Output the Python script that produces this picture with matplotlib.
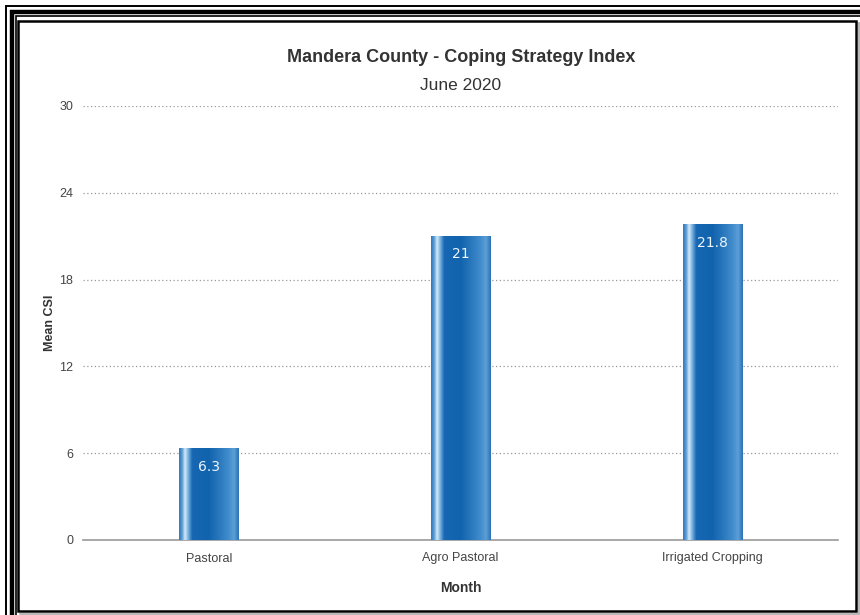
import numpy as np
import matplotlib.pyplot as plt
from matplotlib.colors import LinearSegmentedColormap
from matplotlib.lines import Line2D
from matplotlib.patches import Rectangle

# 데이터
categories = ['Pastoral', 'Agro Pastoral', 'Irrigated Cropping']
mean_csi = [6.3, 21, 21.8]
y_ticks = [0, 6, 12, 18, 24, 30]

plt.rcParams['font.family'] = ['Liberation Sans', 'DejaVu Sans']

W, H = 860, 615
fig = plt.figure(figsize=(W / 100, H / 100), dpi=100)
ax = fig.add_axes([83 / W, 1 - 540 / H, (838 - 83) / W, (540 - 106) / H])


def px(x, y):
    # 위에서부터 잰 픽셀 좌표 -> figure 좌표
    return x / W, 1 - y / H


# 막대 원통 그라데이션
bar_cmap = LinearSegmentedColormap.from_list('cyl', [
    (0.00, '#2f78bd'),
    (0.05, '#5a9bd5'),
    (0.10, '#d4eaf8'),
    (0.15, '#7fb4e0'),
    (0.22, '#1767b3'),
    (0.50, '#1163ae'),
    (0.82, '#3f8bcb'),
    (0.92, '#5d9fd6'),
    (1.00, '#2a70b6'),
])
grad = np.linspace(0, 1, 256).reshape(1, -1)

bar_w = 0.235
x = np.arange(len(categories))
for xi, v in zip(x, mean_csi):
    ax.imshow(grad, cmap=bar_cmap, extent=[xi - bar_w / 2, xi + bar_w / 2, 0, v],
              aspect='auto', zorder=3, interpolation='bilinear')
    ax.annotate(f'{v:g}', (xi, v), xytext=(0, -13), textcoords='offset points',
                ha='center', va='center', color='#eef5fb', fontsize=10,
                family=['DejaVu Sans'], zorder=4)

ax.set_xlim(-0.5, len(categories) - 0.5)
ax.set_ylim(0, 30)
ax.set_yticks(y_ticks)
ax.set_xticks(x)
ax.set_xticklabels(categories)
ax.tick_params(length=0, labelsize=9, labelcolor='#444444')
ax.tick_params(axis='y', pad=7)
ax.tick_params(axis='x', pad=9)

ax.grid(axis='y', linestyle=(0, (1, 2)), color='#999999', linewidth=0.9, zorder=0)
ax.set_axisbelow(True)
for s in ['top', 'right', 'left']:
    ax.spines[s].set_visible(False)
ax.spines['bottom'].set_color('#999999')
ax.spines['bottom'].set_linewidth(1.2)

ax.set_xlabel('Month', fontsize=10, fontweight='bold', color='#333333', labelpad=12)
ax.set_ylabel('Mean CSI', fontsize=9, fontweight='bold', color='#333333')
ax.yaxis.set_label_coords(-0.036, 0.5)

fig.text(*px(461, 58), 'Mandera County - Coping Strategy Index', ha='center', va='center',
         fontsize=13, fontweight='bold', color='#333333')
fig.text(*px(461, 85), 'June 2020', ha='center', va='center', fontsize=12.5, color='#333333')

# 바깥 테두리 (겹선)
for off, lw in [(6, 1.4), (11.5, 3.2), (15.5, 1.2)]:
    fig.add_artist(Line2D([px(off, 0)[0], px(off, 0)[0], 1], [0, px(0, off)[1], px(0, off)[1]],
                          transform=fig.transFigure, color='black', linewidth=lw,
                          solid_joinstyle='miter'))
# 안쪽 테두리
x0, y0 = px(18, 611)
x1, y1 = px(856, 21)
fig.add_artist(Rectangle((x0, y0), x1 - x0, y1 - y0, transform=fig.transFigure,
                         fill=False, edgecolor='black', linewidth=1.8))
fig.add_artist(Line2D([px(858.5, 0)[0]] * 2, [px(0, 613)[1], px(0, 23)[1]],
                      transform=fig.transFigure, color='#aaaaaa', linewidth=1.2))
fig.add_artist(Line2D([px(20, 0)[0], px(858.5, 0)[0]], [px(0, 613.5)[1]] * 2,
                      transform=fig.transFigure, color='#aaaaaa', linewidth=1.2))

fig.savefig('out.png', dpi=100)
